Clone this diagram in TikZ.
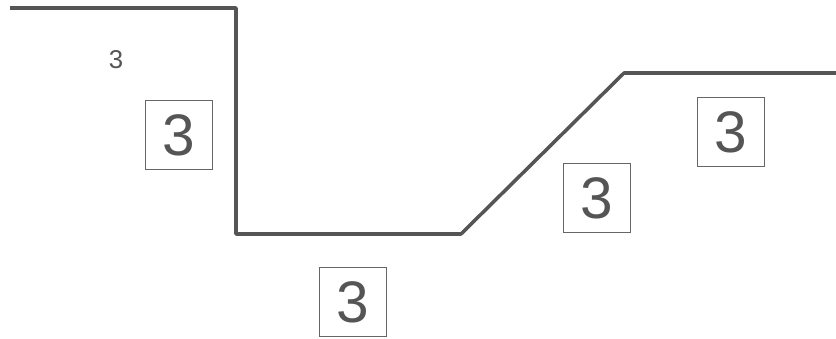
\documentclass[tikz,border=0pt]{standalone}
\usepackage{fontspec}
\setsansfont{Liberation Sans}
\usepackage{xcolor}
\usepackage{tikz}
\usetikzlibrary{positioning}

\definecolor{inkgray}{HTML}{555555}

\begin{document}
\begin{tikzpicture}[
    x=0.03cm, y=-0.03cm,
    every node/.style={font=\sffamily, text=inkgray},
    profile/.style={draw=inkgray, line width=3pt, line join=round},
    numbox/.style={draw=inkgray!90, line width=0.9pt, inner sep=0pt,
      minimum width=2.0cm, minimum height=2.07cm,
      font=\sffamily\fontsize{50}{50}\selectfont},
  ]
  \useasboundingbox (0,0) rectangle (836,339);
  % ground profile
  \draw[profile] (10,8) -- (236,8) -- (236,234) -- (461,234) -- (624,73) -- (836,73);
  % labels
  \node[font=\sffamily\fontsize{22}{22}\selectfont] (lbl) at (116,60) {3};
  \node[numbox] (b1) at (179,135) {3};
  \node[numbox] (b2) at (353,302) {3};
  \node[numbox] (b3) at (597,198) {3};
  \node[numbox] (b4) at (731,132) {3};
\end{tikzpicture}
\end{document}
